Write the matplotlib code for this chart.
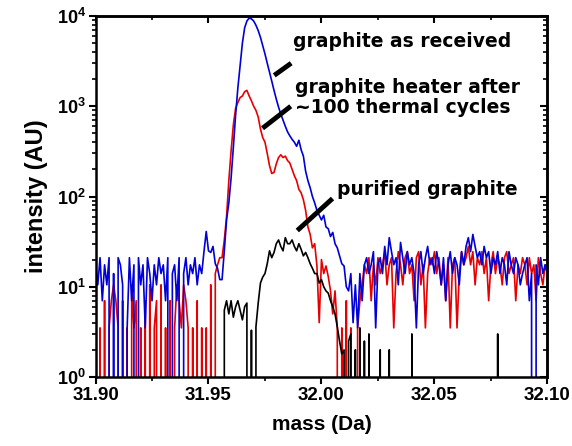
#!/usr/bin/env python3
"""Mass spectrum near 32 Da for three graphite samples (log intensity)."""
from __future__ import annotations

import numpy as np
import matplotlib

matplotlib.use("Agg")
import matplotlib.pyplot as plt
from matplotlib.ticker import FixedLocator, LogLocator, MultipleLocator, NullFormatter


# sample grid: 31.900 .. 32.100 Da in 0.001 Da steps
MASS_START = 31.900
MASS_STEP = 0.001

AS_RECEIVED = [
    18, 10.5, 21, 7, 17.5, 10.5, 21, 0, 14, 0,
    21, 17.5, 10.5, 0, 3.5, 21, 7, 17.5, 0, 21,
    10.5, 17.5, 3.5, 21, 14, 7, 17.5, 10.5, 21, 14,
    17.5, 7, 21, 0, 14, 17.5, 7, 21, 0, 14,
    21, 10.5, 17.5, 14, 21, 10.5, 17.5, 14, 24.5, 41,
    25, 24, 28, 18, 16, 12, 12, 25, 55, 85,
    160, 350, 800, 1600, 2800, 5000, 7400, 8800, 9500, 9300,
    8800, 7900, 6900, 5800, 4700, 3800, 3000, 2400, 1900, 1500,
    1200, 980, 820, 700, 600, 520, 470, 430, 400, 360,
    420, 330, 280, 190, 150, 125, 100, 85, 70, 62,
    55, 62, 46, 44, 36, 40, 30, 27, 22, 18,
    17, 10, 9, 14, 4, 10.5, 3.5, 14, 7, 17.5,
    21, 14, 17.5, 24.5, 3.5, 17.5, 21, 14, 28, 17.5,
    35, 24.5, 17.5, 21, 10.5, 31, 21, 14, 24.5, 17.5,
    21, 14, 3.5, 17.5, 24.5, 14, 21, 28, 17.5, 21,
    14, 24.5, 17.5, 10.5, 21, 7, 17.5, 24.5, 14, 21,
    17.5, 10.5, 24.5, 17.5, 28, 35, 24.5, 38, 28, 21,
    24.5, 17.5, 28, 21, 24.5, 14, 21, 17.5, 24.5, 14,
    21, 17.5, 10.5, 24.5, 17.5, 14, 21, 17.5, 10.5, 14,
    17.5, 21, 7, 14, 0, 17.5, 10.5, 21, 14, 17.5,
    14,
]

HEATER_CYCLED = [
    3.5, 0, 3.5, 0, 7, 0, 3.5, 7, 10.5, 7,
    3.5, 0, 7, 0, 3.5, 0, 10.5, 3.5, 7, 0,
    3.5, 0, 7, 0, 10.5, 0, 3.5, 7, 0, 10.5,
    0, 3.5, 0, 7, 0, 3.5, 10.5, 7, 3.5, 10.5,
    7, 3.5, 0, 3.5, 0, 7, 0, 3.5, 0, 3.5,
    0, 10.5, 0, 14, 17.5, 21, 21, 33, 60, 150,
    320, 620, 950, 1100, 1250, 1300, 1450, 1500, 1300, 1150,
    1000, 900, 760, 560, 450, 400, 300, 220, 180, 185,
    230, 270, 290, 270, 280, 250, 235, 200, 170, 150,
    120, 110, 92, 70, 46, 38, 27, 30, 17, 4,
    20, 14, 17, 13, 9, 5, 9, 3.5, 0, 3.5,
    0, 7, 0, 3.5, 0, 0, 3.5, 7, 10.5, 17.5,
    14, 21, 7, 17.5, 10.5, 21, 14, 17.5, 24.5, 10.5,
    17.5, 21, 3.5, 14, 24.5, 17.5, 10.5, 21, 24.5, 14,
    17.5, 7, 21, 24.5, 10.5, 17.5, 3.5, 14, 21, 17.5,
    24.5, 14, 21, 10.5, 17.5, 7, 21, 3.5, 17.5, 21,
    3.5, 14, 24.5, 17.5, 21, 28, 17.5, 24.5, 10.5, 21,
    17.5, 24.5, 14, 21, 7, 17.5, 24.5, 14, 21, 17.5,
    10.5, 21, 24.5, 14, 17.5, 21, 7, 17.5, 14, 21,
    17.5, 10.5, 21, 14, 17.5, 7, 21, 14, 10.5, 17.5,
    14,
]

PURIFIED = [
    0, 0, 0, 0, 0, 0, 0, 0, 0, 0,
    0, 0, 0, 0, 0, 0, 0, 0, 0, 0,
    0, 0, 0, 0, 0, 0, 0, 0, 0, 0,
    0, 0, 0, 0, 0, 0, 0, 0, 0, 0,
    0, 0, 0, 0, 0, 0, 0, 0, 0, 0,
    0, 0, 0, 0, 0, 0, 0, 5.5, 7, 5,
    7, 4.6, 6, 7, 5.5, 4.3, 6, 6.6, 0, 3.3,
    0, 3.6, 6.6, 11, 12.8, 14, 18, 25, 21, 24,
    30, 33, 28, 25, 35, 30, 30, 33, 28, 25,
    30, 26, 22, 24, 21, 18, 16, 14, 14, 11,
    12, 10, 9, 8.5, 7, 6, 5, 3.6, 2.5, 1.8,
    2, 0, 2.5, 3, 0, 2, 0, 3.5, 0, 2.5,
    0, 3, 0, 0, 0, 0, 2, 0, 0, 0,
    2, 0, 0, 0, 0, 0, 0, 0, 0, 0,
    3, 0, 0, 0, 0, 0, 0, 0, 0, 0,
    0, 0, 0, 0, 0, 0, 0, 0, 0, 0,
    0, 0, 0, 0, 0, 0, 0, 0, 0, 0,
    0, 0, 0, 0, 0, 0, 0, 0, 3, 0,
    0, 0, 0, 0, 0, 0, 0, 0, 0, 0,
    0, 0, 0, 0, 0, 0, 0, 0, 0, 0,
    0,
]

X_TICKS = [31.90, 31.95, 32.00, 32.05, 32.10]
X_TICK_LABELS = ["31.90", "31.95", "32.00", "32.05", "32.10"]
Y_TICKS = [1, 10, 100, 1000, 10000]
Y_TICK_LABELS = [r"$\mathbf{10^{%d}}$" % k for k in range(5)]

# (text, text position, leader line start, leader line end) in data coords
LABELS = [
    ("graphite as received", (31.9875, 5200), (31.9791, 2200), (31.9866, 3000)),
    ("graphite heater after\n~100 thermal cycles", (31.9885, 1250), (31.9739, 570), (31.9864, 1000)),
    ("purified graphite", (32.0070, 120), (31.9893, 42), (32.0049, 95)),
]


def main() -> None:
    plt.rcParams["mathtext.fontset"] = "custom"
    plt.rcParams["mathtext.bf"] = "Liberation Sans:bold"
    plt.rcParams["mathtext.rm"] = "Liberation Sans:bold"

    mass = np.round(MASS_START + MASS_STEP * np.arange(len(AS_RECEIVED)), 3)

    fig = plt.figure(figsize=(5.72, 4.46), dpi=100)
    ax = fig.add_axes([0.167, 0.1547, 0.79, 0.8094])

    ax.plot(mass, HEATER_CYCLED, color="#e80000", lw=1.2)
    ax.plot(mass, AS_RECEIVED, color="#0000d8", lw=1.2)
    ax.plot(mass, PURIFIED, color="black", lw=1.2)

    ax.set_yscale("log", nonpositive="clip")
    ax.set_xlim(31.90, 32.10)
    ax.set_ylim(1, 10000)

    ax.xaxis.set_major_locator(FixedLocator(X_TICKS))
    ax.set_xticklabels(X_TICK_LABELS)
    ax.xaxis.set_minor_locator(MultipleLocator(0.025))
    ax.yaxis.set_major_locator(FixedLocator(Y_TICKS))
    ax.set_yticklabels(Y_TICK_LABELS)
    ax.yaxis.set_minor_locator(LogLocator(base=10, subs=np.arange(2, 10)))
    ax.yaxis.set_minor_formatter(NullFormatter())

    for lab in ax.get_xticklabels():
        lab.set_fontfamily("Liberation Sans")
        lab.set_fontweight("bold")
        lab.set_fontsize(13.5)
    for lab in ax.get_yticklabels():
        lab.set_fontsize(13)

    ax.tick_params(which="major", direction="out", length=5, width=1.5, pad=2)
    ax.tick_params(which="minor", direction="out", length=3, width=1.2)

    # inward ticks on the top and right frame
    top = ax.secondary_xaxis("top")
    top.xaxis.set_major_locator(FixedLocator(X_TICKS))
    top.xaxis.set_minor_locator(MultipleLocator(0.025))
    top.tick_params(which="both", direction="in", labeltop=False)
    top.tick_params(which="major", length=5, width=1.5)
    top.tick_params(which="minor", length=3, width=1.2)
    right = ax.secondary_yaxis("right")
    right.yaxis.set_major_locator(FixedLocator(Y_TICKS))
    right.yaxis.set_minor_locator(LogLocator(base=10, subs=np.arange(2, 10)))
    right.yaxis.set_minor_formatter(NullFormatter())
    right.tick_params(which="both", direction="in", labelright=False)
    right.tick_params(which="major", length=5, width=1.5)
    right.tick_params(which="minor", length=3, width=1.2)

    for spine in list(ax.spines.values()) + [top.spines["top"], right.spines["right"]]:
        spine.set_linewidth(1.8)

    ax.set_xlabel("mass (Da)", fontfamily="Liberation Sans", fontweight="bold", fontsize=15, labelpad=8)
    ax.set_ylabel("intensity (AU)", fontfamily="Liberation Sans", fontweight="bold", fontsize=17, labelpad=6)

    for text, pos, start, end in LABELS:
        ax.plot([start[0], end[0]], [start[1], end[1]], color="black", lw=3.5, solid_capstyle="butt")
        ax.text(pos[0], pos[1], text, fontfamily="DejaVu Sans", fontweight="bold",
                fontsize=13.5, ha="left", va="center", linespacing=1.05)

    fig.savefig("out.png", dpi=100)


if __name__ == "__main__":
    main()
